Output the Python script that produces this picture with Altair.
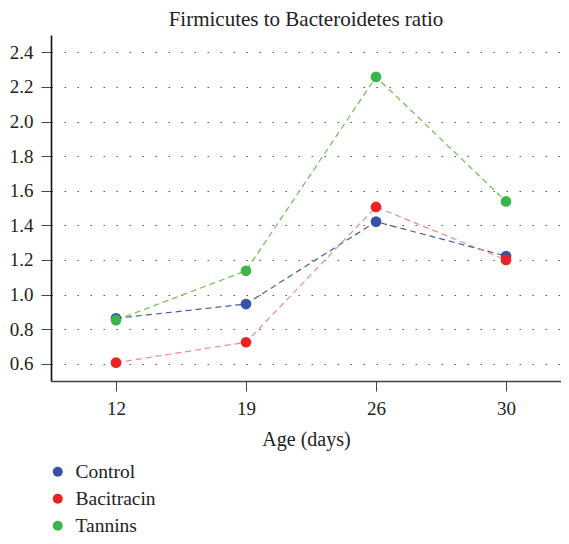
import altair as alt
import pandas as pd

ages = ["12", "19", "26", "30"]
series = ["Control", "Bacitracin", "Tannins"]
control = [0.862, 0.945, 1.421, 1.222]
bacitracin = [0.606, 0.724, 1.506, 1.200]
tannins = [0.852, 1.137, 2.258, 1.538]
y_ticks = [0.6, 0.8, 1.0, 1.2, 1.4, 1.6, 1.8, 2.0, 2.2, 2.4]

point_colors = ["#3953a4", "#ed2124", "#39b54a"]
line_colors = ["#4a5aaa", "#f28a8a", "#6cc04c"]

rows = []
for name, vals in zip(series, [control, bacitracin, tannins]):
    for i, (a, v) in enumerate(zip(ages, vals)):
        rows.append({"idx": i, "age": a, "series": name, "ratio": v})
df = pd.DataFrame(rows)

FONT = "Liberation Serif"
W = 510
STEP = 130
label_expr = "[" + ",".join("'%s'" % a for a in ages) + "][datum.value]"

x = alt.X("idx:Q", scale=alt.Scale(domain=[-0.5, -0.5 + W / STEP], nice=False, zero=False),
          axis=alt.Axis(title="Age (days)", values=list(range(len(ages))), labelExpr=label_expr,
                        labelAngle=0, tickSize=10, labelPadding=8,
                        titlePadding=11, domainColor="#444", domainWidth=1.5,
                        tickColor="#444", grid=False))
y = alt.Y("ratio:Q", scale=alt.Scale(domain=[0.5, 2.5], nice=False, zero=False),
          axis=alt.Axis(title=None, values=y_ticks, format=".1f", tickSize=10,
                        labelPadding=8, domainColor="#111", domainWidth=1.6,
                        tickColor="#444", grid=True, gridDash=[1.5, 11.5],
                        gridColor="#555", gridWidth=1.2))

lines = alt.Chart(df).mark_line(strokeDash=[6, 4], strokeWidth=1.2).encode(
    x=x, y=y,
    color=alt.Color("series:N", sort=series,
                    scale=alt.Scale(domain=series, range=line_colors), legend=None),
)

points = alt.Chart(df).mark_circle(size=115, opacity=1).encode(
    x=x, y=y,
    color=alt.Color("series:N", sort=series,
                    scale=alt.Scale(domain=series, range=point_colors),
                    legend=alt.Legend(title=None, orient="none", legendX=-3, legendY=427,
                                      direction="vertical", symbolType="circle",
                                      symbolSize=100, symbolStrokeWidth=0,
                                      labelFontSize=19.5, labelFont=FONT, labelColor="#222",
                                      labelOffset=8, rowPadding=6, padding=0)),
)

chart = (lines + points).resolve_scale(color="independent").properties(
    width=W, height=346,
    title=alt.Title("Firmicutes to Bacteroidetes ratio", font=FONT, fontSize=21,
                    fontWeight="normal", color="#222", anchor="middle", offset=5),
    autosize=alt.AutoSizeParams(type="none"),
    padding={"left": 43, "top": 27, "right": 0, "bottom": 154},
).configure_view(stroke=None).configure_axis(
    labelFont=FONT, labelFontSize=19, labelColor="#222",
    titleFont=FONT, titleFontSize=20, titleFontWeight="normal", titleColor="#222",
)

chart.save("out.html", embed_options={"renderer": "svg", "actions": False})
